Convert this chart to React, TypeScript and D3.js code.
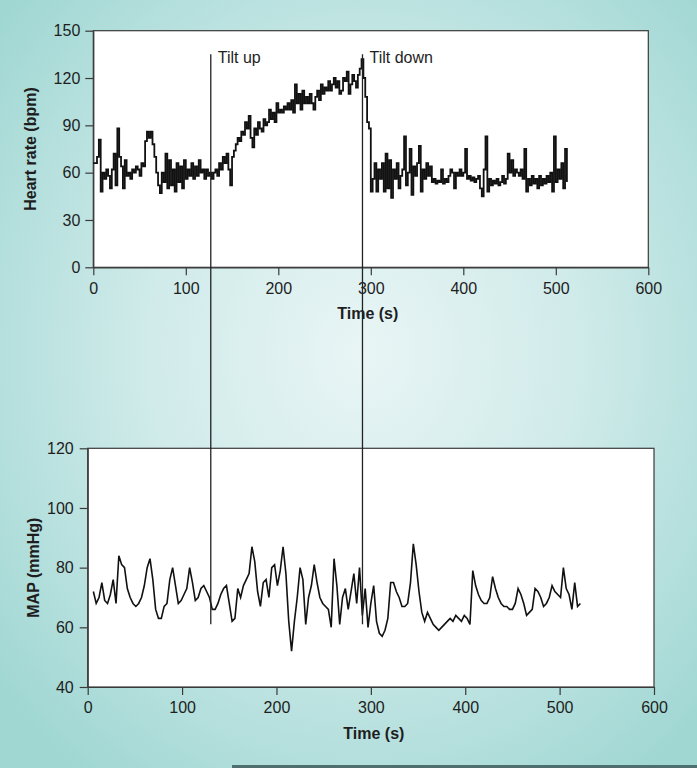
import React, { useEffect, useRef } from "react";
import * as d3 from "d3";

// ---- Data ----
const hrStart = 0;
const hrStep = 2; // seconds between samples
const hrBpm = [
  66, 66, 70, 81, 48, 60, 56, 62, 58, 50,
  62, 72, 52, 88, 70, 64, 50, 68, 58, 60,
  56, 62, 60, 64, 62, 58, 66, 64, 80, 86,
  82, 86, 78, 70, 60, 52, 47, 60, 54, 72,
  50, 68, 52, 62, 48, 66, 54, 64, 50, 68,
  56, 62, 58, 66, 56, 64, 58, 68, 60, 62,
  56, 62, 58, 60, 56, 60, 62, 58, 66, 62,
  70, 66, 72, 62, 52, 70, 74, 78, 82, 80,
  86, 84, 92, 88, 96, 82, 76, 88, 84, 92,
  88, 86, 94, 90, 92, 100, 94, 98, 92, 104,
  98, 100, 98, 102, 100, 104, 100, 106, 98, 116,
  104, 110, 100, 112, 104, 108, 104, 110, 104, 100,
  108, 112, 106, 116, 110, 114, 112, 118, 112, 116,
  120, 114, 118, 110, 112, 120, 118, 124, 110, 116,
  122, 118, 114, 122, 126, 132, 120, 108, 92, 88,
  48, 56, 66, 48, 62, 56, 66, 48, 72, 50,
  68, 44, 62, 56, 66, 50, 58, 62, 83, 52,
  60, 75, 46, 64, 58, 66, 77, 48, 62, 56,
  66, 58, 64, 54, 56, 53, 55, 54, 62, 53,
  56, 54, 58, 62, 60, 50, 60, 58, 62, 58,
  60, 75, 56, 58, 55, 57, 54, 56, 58, 50,
  45, 62, 83, 48, 56, 52, 55, 53, 56, 52,
  54, 58, 53, 56, 72, 60, 68, 58, 62, 60,
  58, 62, 56, 75, 48, 56, 52, 58, 53, 56,
  50, 58, 52, 56, 53, 58, 54, 60, 48, 83,
  54, 62, 56, 66, 50, 75, 54,
];

const mapStart = 6;
const mapStep = 3;
const mapMmHg = [
  72, 68, 70, 75, 69, 68, 71, 76, 68, 84,
  81, 80, 73, 70, 68, 67, 68, 70, 74, 80,
  83, 76, 66, 63, 63, 67, 68, 76, 80, 74,
  68, 69, 71, 73, 80, 75, 69, 70, 73, 74,
  72, 70, 66, 66, 68, 71, 73, 74, 68, 62,
  63, 73, 70, 74, 76, 78, 87, 82, 72, 67,
  75, 76, 70, 80, 81, 74, 79, 87, 78, 62,
  52, 62, 70, 80, 76, 61, 70, 74, 81, 75,
  70, 68, 67, 66, 60, 83, 74, 61, 70, 73,
  66, 72, 78, 68, 80, 64, 73, 60, 68, 74,
  62, 58, 57, 59, 63, 75, 75, 72, 70, 67,
  67, 68, 75, 88, 81, 72, 65, 62, 65, 63,
  61, 60, 59, 60, 61, 62, 63, 62, 64, 63,
  62, 64, 63, 61, 79, 74, 71, 69, 68, 68,
  70, 77, 73, 70, 68, 67, 67, 66, 66, 68,
  73, 71, 68, 64, 65, 66, 73, 72, 70, 67,
  68, 70, 74, 72, 71, 70, 80, 73, 71, 66,
  75, 67, 68,
];

const hrTicks = [0, 30, 60, 90, 120, 150];
const mapTicks = [40, 60, 80, 100, 120];
const timeTicks = [0, 100, 200, 300, 400, 500, 600];

const tiltEvents = [
  { label: "Tilt up", time: 127 },
  { label: "Tilt down", time: 291 },
];
const tiltTopValue = 135; // bpm where the markers start
const tiltBottomValue = 61; // mmHg where the markers end

const W = 697;
const H = 768;
const FONT = "Arial, 'Liberation Sans', Helvetica, sans-serif";

export default function App() {
  const ref = useRef<SVGSVGElement>(null);

  useEffect(() => {
    const svg = d3.select(ref.current);
    svg.selectAll("*").remove();

    const defs = svg.append("defs");
    const grad = defs
      .append("radialGradient")
      .attr("id", "bg")
      .attr("cx", "52%")
      .attr("cy", "46%")
      .attr("r", "68%");
    grad.append("stop").attr("offset", "0%").attr("stop-color", "#e9f5f5");
    grad.append("stop").attr("offset", "45%").attr("stop-color", "#d0ebea");
    grad.append("stop").attr("offset", "100%").attr("stop-color", "#a0d7d3");

    svg.append("rect").attr("width", W).attr("height", H).attr("fill", "url(#bg)");
    svg
      .append("rect")
      .attr("x", 232)
      .attr("y", 765)
      .attr("width", W - 232)
      .attr("height", 3)
      .attr("fill", "#4f6e6e");

    // scales
    const xTop = d3.scaleLinear().domain([0, 600]).range([93.3, 648.3]);
    const yTop = d3.scaleLinear().domain([0, 150]).range([267.3, 30.7]);
    const xBot = d3.scaleLinear().domain([0, 600]).range([87.7, 654]);
    const yBot = d3.scaleLinear().domain([40, 120]).range([687, 448.3]);

    const panels = [
      { x: xTop, y: yTop, yTicks: hrTicks, yLabel: "Heart rate (bpm)", labelX: 36, xLabelShift: -3, yPad: 5 },
      { x: xBot, y: yBot, yTicks: mapTicks, yLabel: "MAP (mmHg)", labelX: 39, xLabelShift: 3, yPad: 6 },
    ];

    panels.forEach((p) => {
      const [x0, x1] = p.x.range();
      const [yb, yt] = p.y.range();
      svg
        .append("rect")
        .attr("x", x0)
        .attr("y", yt)
        .attr("width", x1 - x0)
        .attr("height", yb - yt)
        .attr("fill", "#ffffff")
        .attr("stroke", "#3a3a3a")
        .attr("stroke-width", 1.2);

      const gy = svg
        .append("g")
        .attr("transform", `translate(${x0},0)`)
        .call(d3.axisLeft(p.y).tickValues(p.yTicks).tickSize(8).tickSizeOuter(0).tickPadding(p.yPad));
      const gx = svg
        .append("g")
        .attr("transform", `translate(0,${yb})`)
        .call(d3.axisBottom(p.x).tickValues(timeTicks).tickSize(8).tickSizeOuter(0).tickPadding(7));
      [gx, gy].forEach((g) => {
        g.selectAll("path").attr("stroke", "#3a3a3a").attr("stroke-width", 1.2);
        g.selectAll("line").attr("stroke", "#3a3a3a").attr("stroke-width", 1.2);
        g.selectAll("text")
          .attr("font-size", 16)
          .attr("font-family", FONT)
          .attr("fill", "#1e1e1e");
      });

      svg
        .append("text")
        .attr("x", (x0 + x1) / 2 + p.xLabelShift)
        .attr("y", yb + 52)
        .attr("text-anchor", "middle")
        .attr("font-size", 16)
        .attr("font-weight", "bold")
        .attr("font-family", FONT)
        .attr("fill", "#1e1e1e")
        .text("Time (s)");

      svg
        .append("text")
        .attr("transform", `translate(${p.labelX},${(yb + yt) / 2}) rotate(-90)`)
        .attr("text-anchor", "middle")
        .attr("font-size", 16)
        .attr("font-weight", "bold")
        .attr("font-family", FONT)
        .attr("fill", "#1e1e1e")
        .text(p.yLabel);
    });

    // heart rate trace
    const hrLine = d3
      .line<number>()
      .x((_, i) => xTop(hrStart + i * hrStep))
      .y((d) => yTop(d))
      .curve(d3.curveStepAfter);
    svg
      .append("path")
      .attr("d", hrLine(hrBpm))
      .attr("fill", "none")
      .attr("stroke", "#111")
      .attr("stroke-width", 1.8)
      .attr("stroke-linejoin", "miter");

    // MAP trace
    const mapLine = d3
      .line<number>()
      .x((_, i) => xBot(mapStart + i * mapStep))
      .y((d) => yBot(d))
      .curve(d3.curveLinear);
    svg
      .append("path")
      .attr("d", mapLine(mapMmHg))
      .attr("fill", "none")
      .attr("stroke", "#111")
      .attr("stroke-width", 1.6);

    // tilt markers
    tiltEvents.forEach((e) => {
      const px = xTop(e.time);
      svg
        .append("line")
        .attr("x1", px)
        .attr("x2", px)
        .attr("y1", yTop(tiltTopValue))
        .attr("y2", yBot(tiltBottomValue))
        .attr("stroke", "#222")
        .attr("stroke-width", 1.3);
      svg
        .append("text")
        .attr("x", px + 7)
        .attr("y", yTop(tiltTopValue) + 9)
        .attr("font-size", 16)
        .attr("font-family", FONT)
        .attr("fill", "#1e1e1e")
        .text(e.label);
    });
  }, []);

  return (
    <svg
      ref={ref}
      width={W}
      height={H}
      style={{ position: "absolute", left: 0, top: 0, display: "block" }}
    />
  );
}
